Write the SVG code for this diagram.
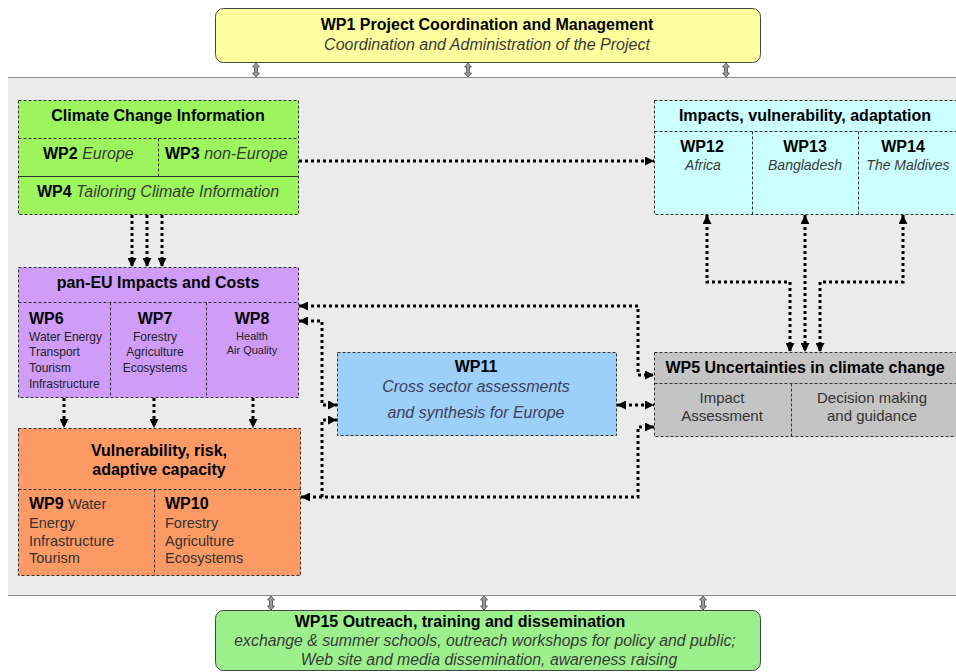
<svg xmlns="http://www.w3.org/2000/svg" xmlns:xlink="http://www.w3.org/1999/xlink" width="956" height="672" viewBox="0 0 956 672">
  <style>
    text { font-family: "Liberation Sans", Arial, sans-serif; fill: #000; }
    .h { font-size: 16px; font-weight: bold; text-anchor: middle; }
    .b { font-size: 16px; font-weight: bold; }
    .i { font-style: italic; fill: #3a3a3a; font-weight: normal; }
    .s12 { font-size: 12px; fill: #222; }
    .s11 { font-size: 11px; fill: #222; }
    .s14 { font-size: 14.5px; fill: #333; }
    .s15 { font-size: 15px; fill: #333; }
    .c { text-anchor: middle; }
    .box { stroke: #333; stroke-width: 1; stroke-dasharray: 3 2; }
    .div { stroke: #333; stroke-width: 1; stroke-dasharray: 3 2; fill: none; }
    .solid { stroke: #333; stroke-width: 1; fill: none; }
    .link { fill: none; stroke: #000; stroke-width: 3; stroke-dasharray: 3 3; }
    .one { marker-end: url(#head); }
    .two { marker-start: url(#head); marker-end: url(#head); }
    .dbl { fill: #9a9a9a; stroke: #4a4a4a; stroke-width: 0.8; }
  </style>
  <defs>
    <marker id="head" viewBox="0 0 10 10" refX="10" refY="5" markerWidth="9" markerHeight="9" markerUnits="userSpaceOnUse" orient="auto-start-reverse">
      <path d="M0,0 L10,5 L0,10 Z" fill="#000"/>
    </marker>
    <path id="dblarrow" class="dbl" d="M0,-7 L3.5,-3 L1.5,-3 L1.5,3 L3.5,3 L0,7 L-3.5,3 L-1.5,3 L-1.5,-3 L-3.5,-3 Z"/>
  </defs>

  <rect width="956" height="672" fill="#fff"/>

  <!-- shared work area -->
  <g id="panel">
    <rect x="8" y="77" width="948" height="518" fill="#ebebeb"/>
    <line x1="8" y1="77.5" x2="956" y2="77.5" stroke="#8a8a8a" stroke-width="1"/>
    <line x1="8" y1="595.5" x2="956" y2="595.5" stroke="#8a8a8a" stroke-width="1"/>
  </g>

  <!-- WP1 -->
  <g id="wp1">
    <rect x="215.5" y="8.5" width="545" height="54" rx="8" fill="#ffffa0" stroke="#444" stroke-width="1"/>
    <text class="h" x="487" y="30">WP1 Project Coordination and Management</text>
    <text class="i c" x="487" y="50" font-size="16">Coordination and Administration of the Project</text>
  </g>

  <!-- WP15 -->
  <g id="wp15">
    <rect x="215.5" y="610.5" width="545" height="60" rx="8" fill="#9cf08c" stroke="#444" stroke-width="1"/>
    <text class="h" x="460" y="627">WP15 Outreach, training and dissemination</text>
    <text class="i c" x="485" y="646" font-size="15.8">exchange &amp; summer schools, outreach workshops for policy and public;</text>
    <text class="i c" x="489" y="665" font-size="15.8">Web site and media dissemination, awareness raising</text>
  </g>

  <!-- Climate change information: WP2, WP3, WP4 -->
  <g id="climate-info">
    <rect class="box" x="18.5" y="100.5" width="280" height="114" fill="#9cf55c"/>
    <line class="div" x1="18.5" y1="138.5" x2="298.5" y2="138.5"/>
    <line class="solid" x1="18.5" y1="176.5" x2="298.5" y2="176.5"/>
    <line class="div" x1="158.5" y1="138.5" x2="158.5" y2="176.5"/>
    <text class="h" x="158" y="121">Climate Change Information</text>
    <text class="b" x="43" y="159">WP2 <tspan class="i">Europe</tspan></text>
    <text class="b" x="165" y="159">WP3 <tspan class="i"> non-Europe</tspan></text>
    <text class="b c" x="158" y="197">WP4 <tspan class="i">Tailoring Climate Information</tspan></text>
  </g>

  <!-- pan-EU impacts: WP6, WP7, WP8 -->
  <g id="pan-eu">
    <rect class="box" x="18.5" y="267.5" width="280" height="130" fill="#cf9df8"/>
    <line class="div" x1="18.5" y1="302.5" x2="298.5" y2="302.5"/>
    <line class="div" x1="110.5" y1="302.5" x2="110.5" y2="397.5"/>
    <line class="div" x1="206.5" y1="302.5" x2="206.5" y2="397.5"/>
    <text class="h" x="158" y="288">pan-EU Impacts and Costs</text>
    <text class="b" x="29" y="324">WP6</text>
    <text class="s12" x="29" y="341" font-size="12.6">Water Energy</text>
    <text class="s12" x="29" y="356" font-size="12.6">Transport</text>
    <text class="s12" x="29" y="372" font-size="12.6">Tourism</text>
    <text class="s12" x="29" y="388" font-size="12.6">Infrastructure</text>
    <text class="h" x="155" y="324">WP7</text>
    <text class="s12 c" x="155" y="341">Forestry</text>
    <text class="s12 c" x="155" y="356">Agriculture</text>
    <text class="s12 c" x="155" y="372">Ecosystems</text>
    <text class="h" x="252" y="324">WP8</text>
    <text class="s11 c" x="252" y="340">Health</text>
    <text class="s11 c" x="252" y="354">Air Quality</text>
  </g>

  <!-- vulnerability: WP9, WP10 -->
  <g id="vulnerability">
    <rect class="box" x="18.5" y="428.5" width="282" height="147" fill="#fb9a64"/>
    <line class="div" x1="18.5" y1="489.5" x2="300.5" y2="489.5"/>
    <line class="div" x1="154.5" y1="489.5" x2="154.5" y2="575.5"/>
    <text class="h" x="159" y="456">Vulnerability, risk,</text>
    <text class="h" x="159" y="475">adaptive capacity</text>
    <text class="b" x="29" y="509">WP9 <tspan class="s14" font-weight="normal">Water</tspan></text>
    <text class="s14" x="29" y="528">Energy</text>
    <text class="s14" x="29" y="546">Infrastructure</text>
    <text class="s14" x="29" y="563">Tourism</text>
    <text class="b" x="165" y="509">WP10</text>
    <text class="s14" x="165" y="528">Forestry</text>
    <text class="s14" x="165" y="546">Agriculture</text>
    <text class="s14" x="165" y="563">Ecosystems</text>
  </g>

  <!-- WP11 -->
  <g id="wp11">
    <rect class="box" x="337.5" y="352.5" width="279" height="83" fill="#9ccffa"/>
    <text class="h" x="476" y="372">WP11</text>
    <text class="i c" x="476" y="392" font-size="16" style="fill:#404058">Cross sector assessments</text>
    <text class="i c" x="476" y="418" font-size="16" style="fill:#404058">and synthesis for Europe</text>
  </g>

  <!-- impacts outside Europe: WP12, WP13, WP14 -->
  <g id="impacts-world">
    <rect class="box" x="654.5" y="100.5" width="310" height="114" fill="#ccffff"/>
    <line class="div" x1="654.5" y1="131.5" x2="956" y2="131.5"/>
    <line class="div" x1="752.5" y1="131.5" x2="752.5" y2="214.5"/>
    <line class="div" x1="858.5" y1="131.5" x2="858.5" y2="214.5"/>
    <text class="h" x="805" y="121">Impacts, vulnerability, adaptation</text>
    <text class="h" x="702" y="152">WP12</text>
    <text class="i c" x="703" y="170" font-size="14">Africa</text>
    <text class="h" x="805" y="152">WP13</text>
    <text class="i c" x="805" y="170" font-size="14">Bangladesh</text>
    <text class="h" x="903" y="152">WP14</text>
    <text class="i c" x="908" y="170" font-size="14">The Maldives</text>
  </g>

  <!-- WP5 -->
  <g id="wp5">
    <rect class="box" x="654.5" y="352.5" width="310" height="84" fill="#c4c4c4"/>
    <line class="div" x1="654.5" y1="383.5" x2="956" y2="383.5"/>
    <line class="div" x1="791.5" y1="383.5" x2="791.5" y2="436.5"/>
    <text class="h" x="805" y="373">WP5 Uncertainties in climate change</text>
    <text class="s15 c" x="722" y="403">Impact</text>
    <text class="s15 c" x="722" y="421">Assessment</text>
    <text class="s15 c" x="872" y="403">Decision making</text>
    <text class="s15 c" x="872" y="421">and guidance</text>
  </g>

  <!-- connectors -->
  <g id="connectors">
    <path class="link one" d="M132,215 V267"/>
    <path class="link one" d="M147,215 V267"/>
    <path class="link one" d="M162,215 V267"/>
    <path class="link one" d="M299,161 H654"/>
    <path class="link one" d="M64,398 V428"/>
    <path class="link one" d="M154,398 V428"/>
    <path class="link one" d="M253,398 V428"/>
    <path class="link two" d="M707,215 V282 H790 V352"/>
    <path class="link two" d="M805,215 V352"/>
    <path class="link two" d="M903,215 V282 H820 V352"/>
    <path class="link two" d="M299,306 H638 V375 H654"/>
    <path class="link two" d="M299,321 H322 V405 H337"/>
    <path class="link two" d="M617,405 H654"/>
    <path class="link two" d="M301,497 H638 V427 H654"/>
    <path class="link one" d="M322,497 V420 H337"/>
  </g>

  <!-- management / outreach links -->
  <g id="frame-links">
    <use xlink:href="#dblarrow" x="256" y="70"/>
    <use xlink:href="#dblarrow" x="468" y="70"/>
    <use xlink:href="#dblarrow" x="726" y="70"/>
    <use xlink:href="#dblarrow" x="271" y="603"/>
    <use xlink:href="#dblarrow" x="484" y="603"/>
    <use xlink:href="#dblarrow" x="703" y="603"/>
  </g>
</svg>
